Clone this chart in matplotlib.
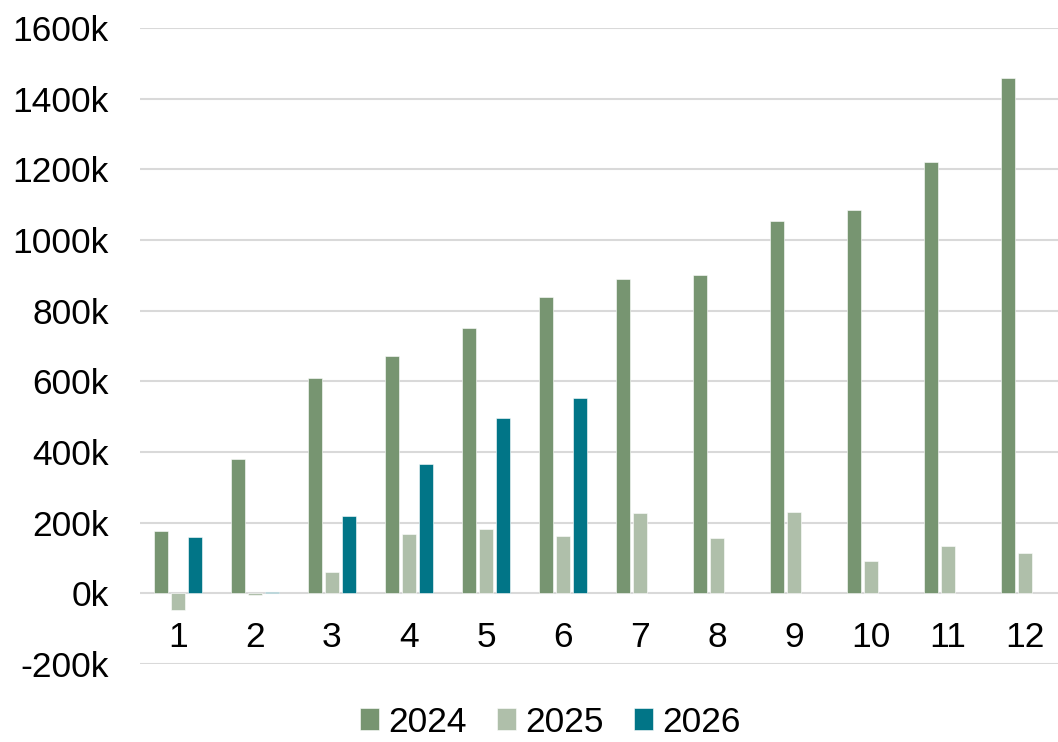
import matplotlib
matplotlib.use("Agg")
import matplotlib.pyplot as plt
import numpy as np

categories = ["1", "2", "3", "4", "5", "6", "7", "8", "9", "10", "11", "12"]
series_names = ["2024", "2025", "2026"]
v2024 = [176, 381, 609, 672, 751, 838, 891, 902, 1053, 1086, 1221, 1458]
v2025 = [-48, -6, 60, 168, 182, 162, 226, 156, 231, 91, 133, 115]
v2026 = [160, 3, 218, 365, 495, 552, np.nan, np.nan, np.nan, np.nan, np.nan, np.nan]
colors = ["#779571", "#AFBFAA", "#017587"]
yticks = [-200, 0, 200, 400, 600, 800, 1000, 1200, 1400, 1600]

plt.rcParams['font.family'] = ['Liberation Sans', 'DejaVu Sans']

fig = plt.figure(figsize=(10.58, 7.42), dpi=100)
ax = fig.add_axes([139.5/1058, 1-664/742, 924/1058, (664-28)/742])

x = np.arange(len(categories))
width = 0.176
step = 0.221
for i, (vals, name, c) in enumerate(zip([v2024, v2025, v2026], series_names, colors)):
    ax.bar(x + (i-1)*step, vals, width, color=c, label=name,
           edgecolor='white', linewidth=0.4, zorder=3)

ax.set_xlim(-0.5, len(categories)-0.5)
ax.set_ylim(-200, 1600)
ax.set_yticks(yticks)
ax.set_yticklabels([f"{t}k" for t in yticks], fontsize=25.5)
ax.grid(axis='y', color='#D9D9D9', linewidth=1.5, zorder=0)
ax.set_axisbelow(True)
for s in ['left', 'right', 'top']:
    ax.spines[s].set_visible(False)
ax.spines['bottom'].set_position(('data', 0))
ax.spines['bottom'].set_visible(False)
ax.set_xticks(x)
ax.set_xticklabels(categories, fontsize=25.5)
ax.tick_params(axis='x', length=0, pad=20)
ax.tick_params(axis='y', length=0, pad=22)

leg = fig.legend(loc='center', bbox_to_anchor=(0.52, 1-722/742), ncol=3,
                 frameon=False, fontsize=25.5, handlelength=0.55, handleheight=0.55,
                 handletextpad=0.25, columnspacing=0.85)

fig.savefig("out.png", dpi=100)
